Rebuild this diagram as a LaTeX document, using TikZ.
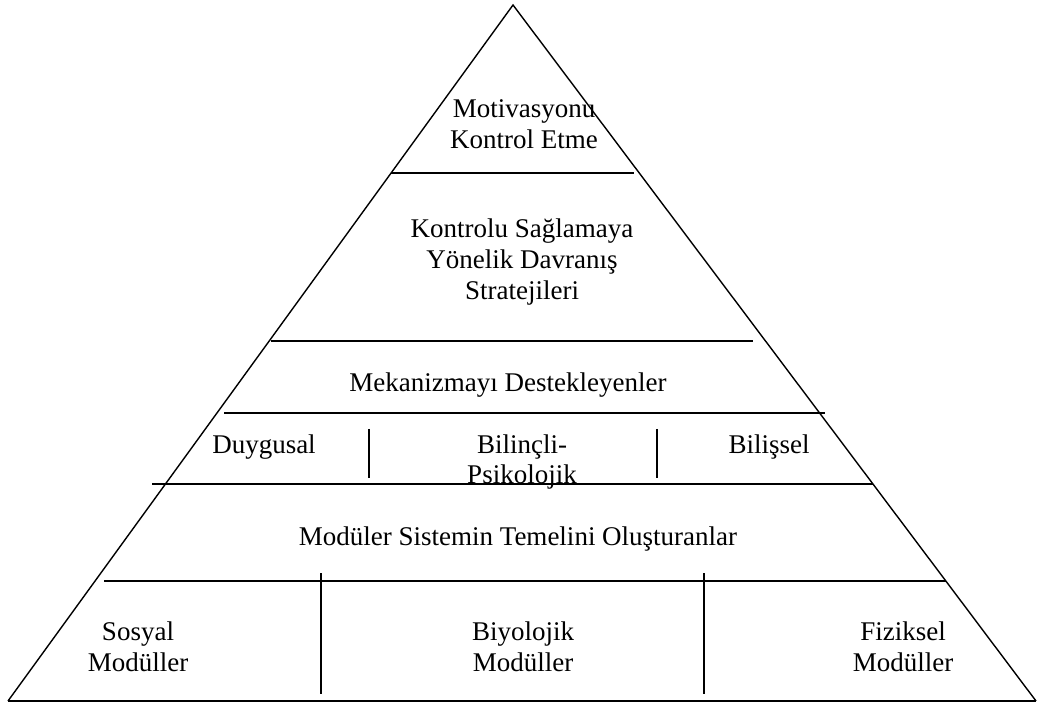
\documentclass[tikz,border=0pt]{standalone}
\usepackage{fontspec}
\setmainfont{Liberation Serif}
\begin{document}
\begin{tikzpicture}[x=0.5pt,y=-0.5pt,
  edge/.style={line width=0.7pt},
  band/.style={line width=0.9pt},
  sep/.style={line width=0.9pt},
  lbl/.style={align=center,inner sep=0pt,font=\fontsize{13.5}{15.3}\selectfont}]
\useasboundingbox (0,0) rectangle (1037,704);
% triangle
\coordinate (apex) at (513,5);
\coordinate (bl) at (8,701);
\coordinate (br) at (1036,701);
\draw[edge,line join=miter] (bl) -- (apex) -- (br);
\draw[band] (bl) -- (br);
% horizontal band lines
\coordinate (h1a) at (391,173); \coordinate (h1b) at (634,173);
\coordinate (h2a) at (271,341); \coordinate (h2b) at (753,341);
\coordinate (h3a) at (224,413); \coordinate (h3b) at (825,413);
\coordinate (h4a) at (152,484); \coordinate (h4b) at (873,484);
\coordinate (h5a) at (104,581); \coordinate (h5b) at (946,581);
\draw[band] (h1a) -- (h1b);
\draw[band] (h2a) -- (h2b);
\draw[band] (h3a) -- (h3b);
\draw[band] (h4a) -- (h4b);
\draw[band] (h5a) -- (h5b);
% vertical separators
\coordinate (v1a) at (369,429); \coordinate (v1b) at (369,478);
\coordinate (v2a) at (657,429); \coordinate (v2b) at (657,478);
\coordinate (v3a) at (321,573); \coordinate (v3b) at (321,694);
\coordinate (v4a) at (704,573); \coordinate (v4b) at (704,694);
\draw[sep] (v1a) -- (v1b);
\draw[sep] (v2a) -- (v2b);
\draw[sep] (v3a) -- (v3b);
\draw[sep] (v4a) -- (v4b);
% labels
\node[lbl] (mot) at (524,124) {Motivasyonu\\Kontrol Etme};
\node[lbl] (kon) at (522,262) {Kontrolu Sağlamaya\\Yönelik Davranış\\Stratejileri};
\node[lbl] (mek) at (508,385) {Mekanizmayı Destekleyenler};
\node[lbl] (duy) at (264,447) {Duygusal};
\node[lbl] (bil) at (522,462) {Bilinçli-\\Psikolojik};
\node[lbl] (bis) at (769,447) {Bilişsel};
\node[lbl] (mod) at (518,539) {Modüler Sistemin Temelini Oluşturanlar};
\node[lbl] (sos) at (138,647) {Sosyal\\Modüller};
\node[lbl] (biy) at (523,647) {Biyolojik\\Modüller};
\node[lbl] (fiz) at (903,647) {Fiziksel\\Modüller};
\end{tikzpicture}
\end{document}
